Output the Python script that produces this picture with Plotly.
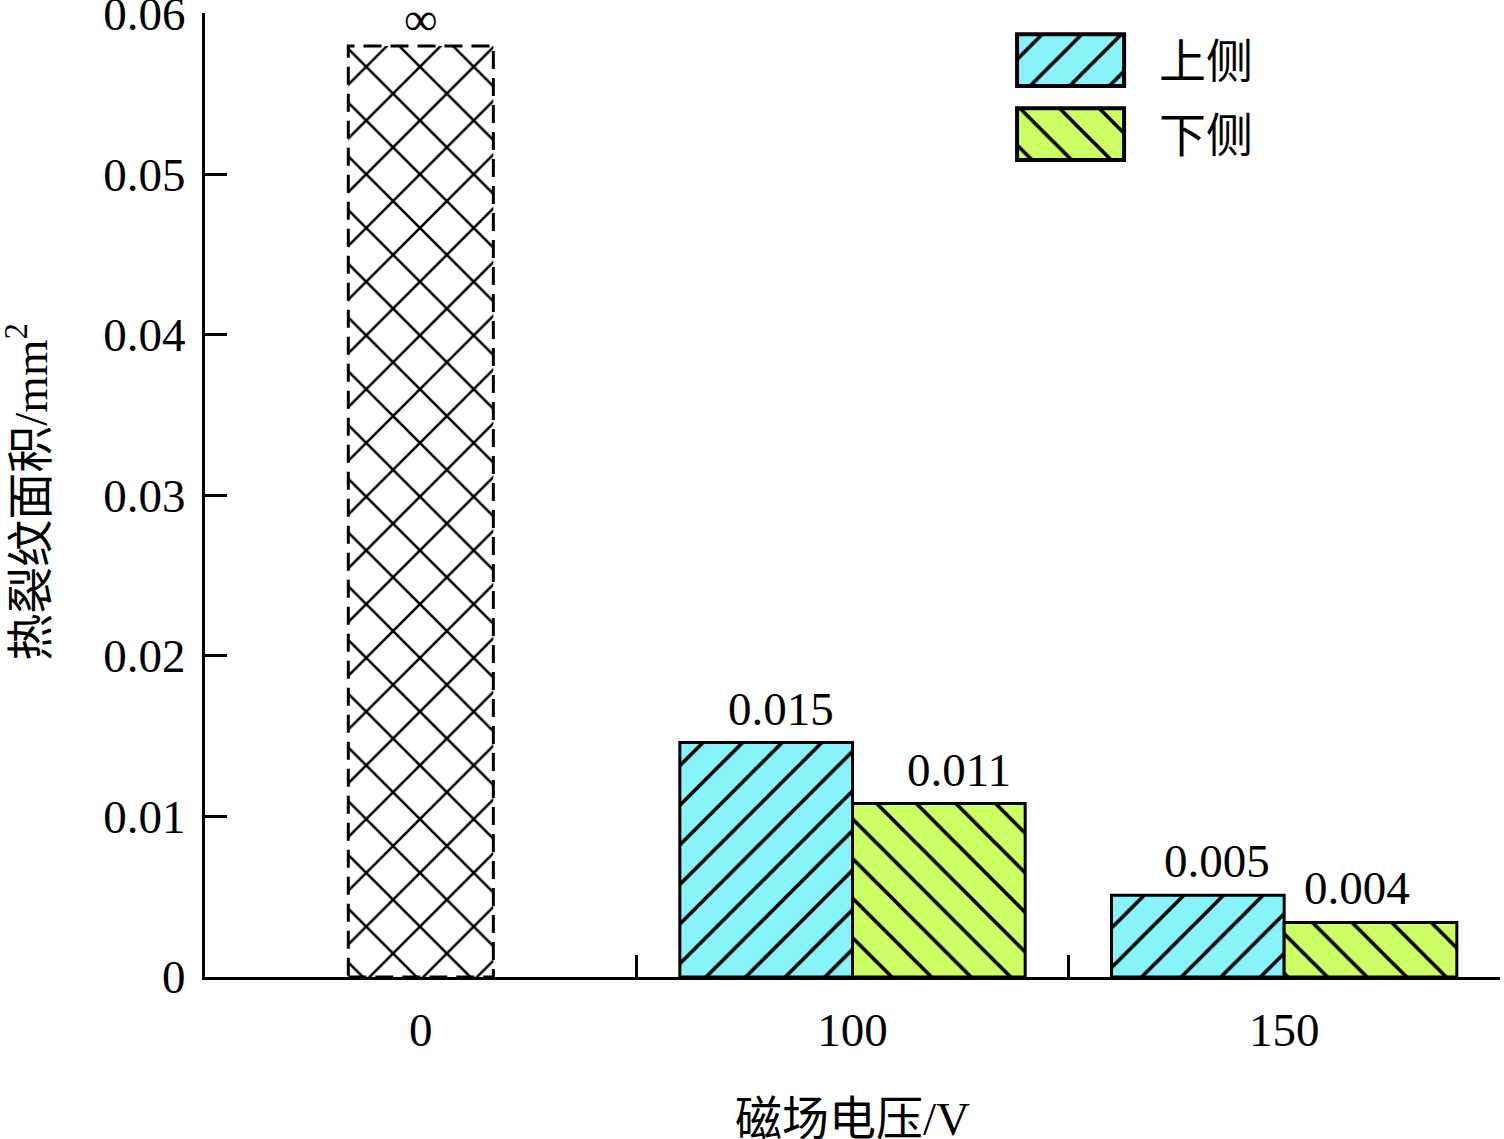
import plotly.graph_objects as go

# values
categories = ["0", "100", "150"]
base_value = [0.058]          # 0 V: crack area unbounded, drawn as a dashed bar
upper = [0.0146, 0.0051]      # 上侧 at 100 V / 150 V
lower = [0.0108, 0.0034]      # 下侧 at 100 V / 150 V
upper_labels = ["0.015", "0.005"]
lower_labels = ["0.011", "0.004"]
base_label = "∞"
legend_names = ["上侧", "下侧"]
y_ticks = [0, 0.01, 0.02, 0.03, 0.04, 0.05, 0.06]

CYAN = "#88F4FA"
GREEN = "#CCFF66"
FONT = "Liberation Serif, Times New Roman, Noto Sans CJK SC, serif"
FS = 47


def hatch(shape, bg, size=28):
    return dict(shape=shape, fgcolor="black", bgcolor=bg, fgopacity=1,
                size=size, solidity=0.13)


fig = go.Figure()

# 0 V bar (cross hatched, dashed outline drawn as a shape below)
fig.add_bar(x=categories[:1], y=base_value, width=0.336, offset=-0.168,
            marker=dict(color="white", line=dict(width=0), pattern=hatch("x", "white", 38)),
            showlegend=False, hoverinfo="skip")
fig.add_bar(x=categories[1:], y=upper, width=0.4, offset=-0.4, name=legend_names[0],
            marker=dict(color=CYAN, line=dict(color="black", width=3), pattern=hatch("/", CYAN)),
            showlegend=False)
fig.add_bar(x=categories[1:], y=lower, width=0.4, offset=0, name=legend_names[1],
            marker=dict(color=GREEN, line=dict(color="black", width=3), pattern=hatch("\\", GREEN)),
            showlegend=False)

# legend patches drawn on a small inset axis so they keep the big hatched boxes
for name, color, shape in zip(legend_names, [CYAN, GREEN], ["/", "\\"]):
    fig.add_bar(x=[1], y=[name], orientation="h", width=0.70, xaxis="x2", yaxis="y2",
                marker=dict(color=color, line=dict(color="black", width=4),
                            pattern=hatch(shape, color)),
                showlegend=False, hoverinfo="skip")

# dashed outline of the 0 V bar
fig.add_shape(type="rect", xref="x", yref="y", x0=-0.168, x1=0.168, y0=0, y1=base_value[0],
              line=dict(color="black", width=3, dash="18px,9px"), layer="above")

# value labels (small pixel nudges as in the original figure)
upper_shift = [15, 19]
lower_shift = [20, -14]
ann = [dict(x=0, y=base_value[0], text=base_label, showarrow=False, yanchor="middle",
            yshift=27, font=dict(size=FS))]
for i, (u, l, ut, lt) in enumerate(zip(upper, lower, upper_labels, lower_labels), start=1):
    ann.append(dict(x=i - 0.2, y=u, text=ut, showarrow=False, yanchor="bottom", yshift=6,
                    xshift=upper_shift[i - 1], font=dict(size=FS)))
    ann.append(dict(x=i + 0.2, y=l, text=lt, showarrow=False, yanchor="bottom", yshift=6,
                    xshift=lower_shift[i - 1], font=dict(size=FS)))
# legend text
for name, yc in zip(legend_names, [0.949, 0.872]):
    ann.append(dict(x=0.735, y=yc, xref="paper", yref="paper", text=name, showarrow=False,
                    xanchor="left", yanchor="middle", font=dict(size=FS)))
# axis titles
ann.append(dict(x=-0.137, y=0.503, xref="paper", yref="paper", text="热裂纹面积/mm<sup>2</sup>",
                textangle=-90, showarrow=False, xanchor="center", yanchor="middle",
                font=dict(size=FS)))
ann.append(dict(x=0.5, y=-0.147, xref="paper", yref="paper", text="磁场电压/V",
                showarrow=False, xanchor="center", yanchor="middle", font=dict(size=FS)))

fig.update_layout(
    width=1504, height=1139,
    margin=dict(l=205, r=4, t=13, b=162),
    paper_bgcolor="white", plot_bgcolor="white",
    font=dict(family=FONT, size=FS, color="black"),
    barmode="overlay",
    annotations=ann,
    xaxis=dict(type="category", categoryorder="array", categoryarray=categories,
               range=[-0.5, 2.5], tickson="boundaries", ticks="inside", ticklen=22,
               tickwidth=3, tickcolor="black", showline=True, linewidth=3, linecolor="black",
               showgrid=False, zeroline=False, ticklabelstandoff=10, automargin=False),
    yaxis=dict(range=[0, 0.06005], tickvals=y_ticks, ticks="inside", ticklen=22, tickwidth=3,
               tickcolor="black", showline=True, linewidth=3, linecolor="black",
               showgrid=False, zeroline=False, ticklabelstandoff=7, automargin=False,
               ticklabeloverflow="allow"),
    xaxis2=dict(domain=[0.6246, 0.7122], range=[-0.03, 1.03], anchor="y2", visible=False,
                fixedrange=True),
    yaxis2=dict(domain=[0.836, 0.9896], type="category", categoryorder="array",
                categoryarray=legend_names, range=[1.5, -0.5], anchor="x2", visible=False,
                fixedrange=True),
)

fig.write_html("out.html", config={"displayModeBar": False},
               post_script="document.body.style.margin='0px';")
